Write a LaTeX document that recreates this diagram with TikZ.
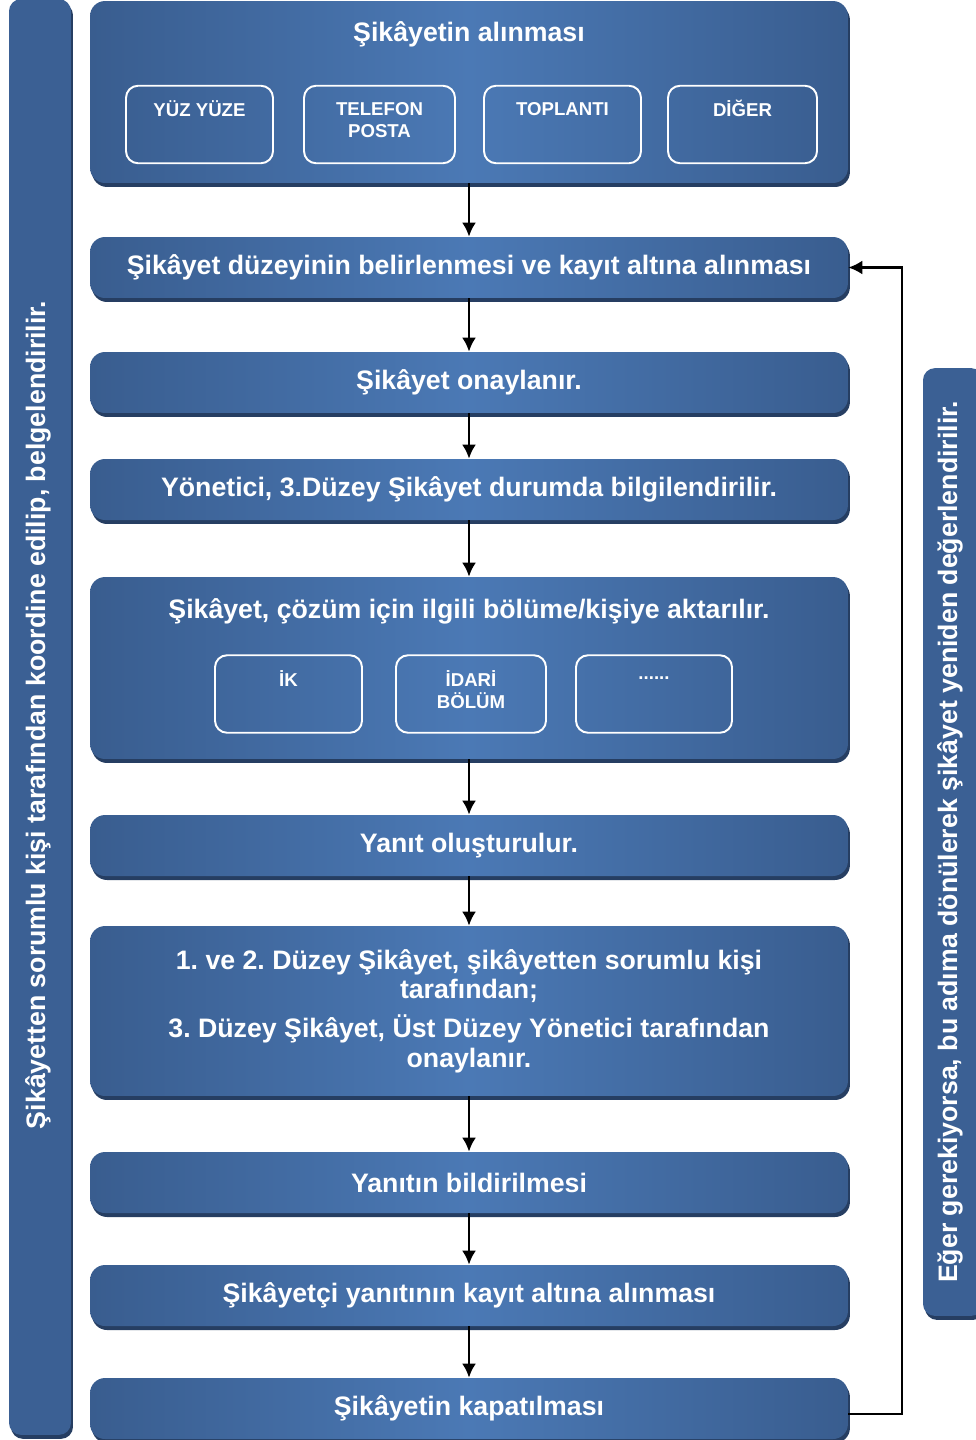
\documentclass[tikz,border=0pt]{standalone}
\usepackage{fontspec}
\setmainfont{Liberation Sans}
\usetikzlibrary{shadows,arrows.meta}
\definecolor{boxedge}{RGB}{57,93,143}
\definecolor{boxmid}{RGB}{75,121,181}
\definecolor{boxshadow}{RGB}{38,62,98}
\definecolor{barfill}{RGB}{59,96,148}
\frenchspacing
\begin{document}
\begin{tikzpicture}[x=0.02cm,y=-0.02cm]
\tikzstyle{every node}+=[font=\bfseries, text=white]
\tikzstyle{stepbox}=[rectangle, rounded corners=0.3cm, minimum width=15.16cm, minimum height=1.22cm,
  left color=boxedge, right color=boxedge, middle color=boxmid,
  drop shadow={shadow xshift=0.04cm, shadow yshift=-0.08cm, fill=boxshadow, opacity=1},
  font=\fontsize{15.2}{17}\selectfont\bfseries, align=center]
\tikzstyle{chanbox}=[rectangle, rounded corners=0.24cm, draw=white, line width=1.1pt,
  minimum height=1.55cm, text depth=5.5pt, font=\fontsize{10.6}{12.5}\selectfont\bfseries, align=center]
\tikzstyle{sidebar}=[rectangle, rounded corners=0.24cm, fill=barfill,
  drop shadow={shadow xshift=0.04cm, shadow yshift=-0.08cm, fill=boxshadow, opacity=1}]
\tikzstyle{bartext}=[rotate=90, font=\fontsize{15.2}{17}\selectfont\bfseries]
\tikzstyle{flow}=[-{Latex[length=0.28cm, width=0.28cm]}, black, line width=1.4pt]
\useasboundingbox (0,0) rectangle (976,1440);
% side bars
\node [sidebar, minimum width=1.24cm, minimum height=28.72cm] (lbar) at (40,717) {};
\node [bartext] (ltext) at (38,715)
  {Şikâyetten sorumlu kişi tarafından koordine edilip, belgelendirilir.};
\node [sidebar, minimum width=1.2cm, minimum height=18.96cm] (rbar) at (953,842) {};
\node [bartext] (rtext) at (950,842)
  {Eğer gerekiyorsa, bu adıma dönülerek şikâyet yeniden değerlendirilir.};
% receiving the complaint
\node [stepbox, minimum height=3.64cm] (b1) at (469,92) {};
\node [font=\fontsize{15.2}{17}\selectfont\bfseries] (b1t) at (469,34) {Şikâyetin alınması};
\node [chanbox, minimum width=2.94cm] (yuz) at (199.5,124.5) {YÜZ YÜZE\\~};
\node [chanbox, minimum width=3.02cm] (tel) at (379.5,124.5) {TELEFON\\POSTA};
\node [chanbox, minimum width=3.14cm] (top) at (562.5,124.5) {TOPLANTI\\~};
\node [chanbox, minimum width=2.98cm] (dig) at (742.5,124.5) {DİĞER\\~};
% steps
\node [stepbox] (b2) at (469,267.5) {Şikâyet düzeyinin belirlenmesi ve kayıt altına alınması};
\node [stepbox] (b3) at (469,382.5) {Şikâyet onaylanır.};
\node [stepbox] (b4) at (469,489.5) {Yönetici, 3.Düzey Şikâyet durumda bilgilendirilir.};
\node [stepbox, minimum height=3.64cm] (b5) at (469,668) {};
\node [font=\fontsize{15.2}{17}\selectfont\bfseries] (b5t) at (469,611) {Şikâyet, çözüm için ilgili bölüme/kişiye aktarılır.};
\node [chanbox, minimum width=2.94cm] (ik) at (288.5,694) {İK\\~};
\node [chanbox, minimum width=3cm] (idari) at (471,694) {İDARİ\\BÖLÜM};
\node [chanbox, minimum width=3.12cm] (diger) at (654,694) {......\\~};
\node [stepbox] (b6) at (469,845.5) {Yanıt oluşturulur.};
\node [stepbox, minimum height=3.4cm] (b7) at (469,1011)
  {1. ve 2. Düzey Şikâyet, şikâyetten sorumlu kişi\\tarafından;\\[5pt]3. Düzey Şikâyet, Üst Düzey Yönetici tarafından\\onaylanır.};
\node [stepbox] (b8) at (469,1182.5) {Yanıtın bildirilmesi};
\node [stepbox] (b9) at (469,1295.5) {Şikâyetçi yanıtının kayıt altına alınması};
\node [stepbox] (b10) at (469,1408.5) {Şikâyetin kapatılması};
% arrows
\draw [flow] (b1.south) -- (b2.north);
\draw [flow] (b2.south) -- (b3.north);
\draw [flow] (b3.south) -- (b4.north);
\draw [flow] (b4.south) -- (b5.north);
\draw [flow] (b5.south) -- (b6.north);
\draw [flow] (b6.south) -- (b7.north);
\draw [flow] (b7.south) -- (b8.north);
\draw [flow] (b8.south) -- (b9.north);
\draw [flow] (b9.south) -- (b10.north);
\coordinate (back) at (902,1414);
\draw [flow] (b10.east |- back) -- (back) |- (b2.east);
\end{tikzpicture}
\end{document}
